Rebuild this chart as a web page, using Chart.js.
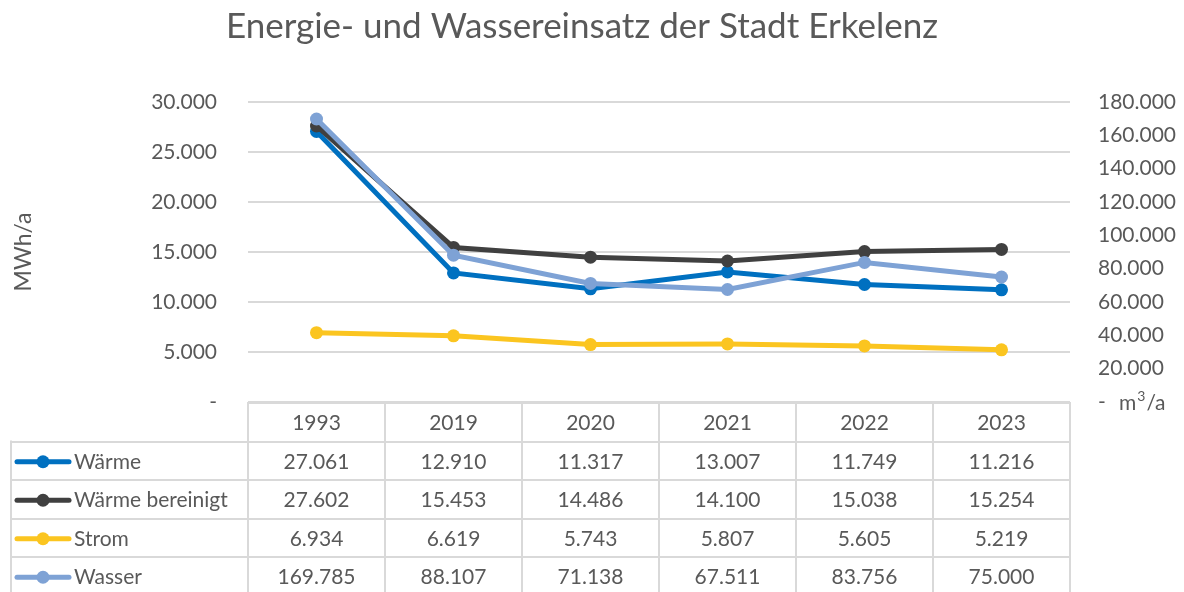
<!DOCTYPE html>
<html>
<head>
<meta charset="utf-8">
<script src="https://cdn.jsdelivr.net/npm/chart.js@4.4.1/dist/chart.umd.min.js"></script>
<style>
  html, body { margin: 0; padding: 0; background: #fff; }
  #wrap { width: 1184px; height: 592px; }
</style>
</head>
<body>
<div id="wrap"><canvas id="chart" width="1184" height="592"></canvas></div>
<script>
const years = ['1993', '2019', '2020', '2021', '2022', '2023'];
const waerme = [27061, 12910, 11317, 13007, 11749, 11216];
const waermeBereinigt = [27602, 15453, 14486, 14100, 15038, 15254];
const strom = [6934, 6619, 5743, 5807, 5605, 5219];
const wasser = [169785, 88107, 71138, 67511, 83756, 75000];

const FONT = 'Lato, "Noto Sans", sans-serif';
const TEXT = '#595959';
const GRID = '#d9d9d9';

// Zahlen mit Punkt als Tausendertrenner
function fmt(v) {
    if (v === 0) return '-';
    return String(Math.round(v)).replace(/\B(?=(\d{3})+(?!\d))/g, '.');
}

const series = [
    { name: 'Wärme', data: waerme, color: '#0070c0', axis: 'y', order: 4 },
    { name: 'Wärme bereinigt', data: waermeBereinigt, color: '#404040', axis: 'y', order: 3 },
    { name: 'Strom', data: strom, color: '#fbc520', axis: 'y', order: 2 },
    { name: 'Wasser', data: wasser, color: '#7ea2d5', axis: 'y2', order: 1 }
];

const extras = {
    id: 'extras',
    afterDraw(chart) {
        const ctx = chart.ctx;
        const area = chart.chartArea;
        const x = chart.scales.x;
        const colW = (area.right - area.left) / years.length;
        const rowH = 38.5;
        const top = area.bottom + 1;

        ctx.save();
        // title
        ctx.fillStyle = TEXT;
        ctx.font = '35px ' + FONT;
        ctx.textAlign = 'center';
        ctx.textBaseline = 'middle';
        ctx.fillText('Energie- und Wassereinsatz der Stadt Erkelenz', 582, 27);

        // unit of right axis
        ctx.font = '21px ' + FONT;
        ctx.textAlign = 'left';
        ctx.fillText('m', 1119, area.bottom + 1);
        const mw = ctx.measureText('m').width;
        ctx.font = '14px ' + FONT;
        ctx.fillText('3', 1119 + mw + 1, area.bottom - 6);
        const tw = ctx.measureText('3').width;
        ctx.font = '21px ' + FONT;
        ctx.fillText('/a', 1119 + mw + tw + 2, area.bottom + 1);

        // data table
        ctx.strokeStyle = GRID;
        ctx.lineWidth = 2;
        const nRows = series.length;
        const bottom = top + rowH * (nRows + 1);
        ctx.beginPath();
        ctx.moveTo(area.left, Math.round(top));
        ctx.lineTo(area.right, Math.round(top));
        for (let r = 1; r <= nRows + 1; r++) {
            const y = Math.round(top + r * rowH);
            ctx.moveTo(10, y);
            ctx.lineTo(area.right, y);
        }
        for (let c = 0; c <= years.length; c++) {
            const xx = Math.round(area.left + c * colW);
            ctx.moveTo(xx, top - 1);
            ctx.lineTo(xx, bottom);
        }
        ctx.moveTo(11, top + rowH - 1);
        ctx.lineTo(11, bottom);
        ctx.stroke();

        ctx.fillStyle = TEXT;
        ctx.font = '21px ' + FONT;
        ctx.textAlign = 'center';
        ctx.textBaseline = 'middle';
        years.forEach((yr, i) => {
            ctx.fillText(yr, x.getPixelForValue(i), top + rowH / 2 + 1);
        });
        series.forEach((s, r) => {
            const cy = top + rowH * (r + 1) + rowH / 2 + 1;
            // legend key
            ctx.strokeStyle = s.color;
            ctx.lineWidth = 5;
            ctx.lineCap = 'round';
            ctx.beginPath();
            ctx.moveTo(17, cy);
            ctx.lineTo(69, cy);
            ctx.stroke();
            ctx.fillStyle = s.color;
            ctx.beginPath();
            ctx.arc(43, cy, 6.5, 0, Math.PI * 2);
            ctx.fill();
            ctx.fillStyle = TEXT;
            ctx.textAlign = 'left';
            ctx.fillText(s.name, 74, cy);
            ctx.textAlign = 'center';
            s.data.forEach((v, i) => {
                ctx.fillText(fmt(v), x.getPixelForValue(i), cy);
            });
        });
        ctx.restore();
    }
};

new Chart(document.getElementById('chart'), {
    type: 'line',
    data: {
        labels: years,
        datasets: series.map(s => ({
            label: s.name,
            data: s.data,
            yAxisID: s.axis,
            order: s.order,
            borderColor: s.color,
            backgroundColor: s.color,
            pointBackgroundColor: s.color,
            pointBorderColor: s.color,
            borderWidth: 5,
            pointRadius: 6.5,
            pointBorderWidth: 0,
            tension: 0
        }))
    },
    plugins: [extras],
    options: {
        responsive: false,
        animation: false,
        devicePixelRatio: 1,
        layout: { padding: { top: 102, bottom: 190, left: 0, right: 0 } },
        plugins: {
            legend: { display: false },
            title: { display: false },
            tooltip: { enabled: false }
        },
        scales: {
            x: {
                display: false,
                offset: true
            },
            y: {
                position: 'left',
                min: 0,
                max: 30000,
                afterFit(scale) { scale.width = 248; },
                border: { display: false },
                grid: { color: GRID, lineWidth: 2, drawTicks: false },
                ticks: {
                    stepSize: 5000,
                    padding: 31,
                    color: TEXT,
                    font: { family: FONT, size: 21 },
                    callback: v => fmt(v)
                },
                title: {
                    display: true,
                    text: 'MWh/a',
                    color: TEXT,
                    font: { family: FONT, size: 23 },
                    padding: { top: 10 }
                }
            },
            y2: {
                position: 'right',
                min: 0,
                max: 180000,
                afterFit(scale) { scale.width = 114; },
                border: { display: false },
                grid: { display: false, drawTicks: false },
                ticks: {
                    stepSize: 20000,
                    padding: 28,
                    color: TEXT,
                    font: { family: FONT, size: 21 },
                    callback: v => fmt(v)
                }
            }
        }
    }
});
</script>
</body>
</html>
